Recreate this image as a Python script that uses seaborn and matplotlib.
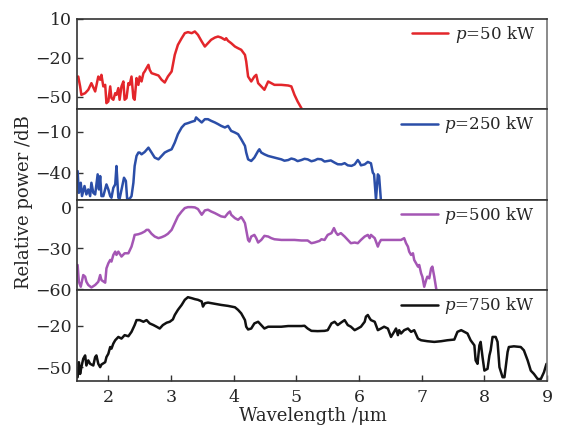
import matplotlib
matplotlib.use("Agg")
import matplotlib.pyplot as plt
import seaborn as sns

# Supercontinuum spectra (relative power in dB) for four pump peak powers
labels = ["$p$=50 kW", "$p$=250 kW", "$p$=500 kW", "$p$=750 kW"]
colors = ["#e3262b", "#2b4ea8", "#a456b4", "#111111"]

wl_50 = [1.52, 1.55, 1.57, 1.63, 1.68, 1.73, 1.79, 1.84, 1.87, 1.89,
         1.92, 1.95, 1.97, 2.00, 2.03, 2.05, 2.08, 2.11, 2.13, 2.16,
         2.18, 2.21, 2.24, 2.26, 2.29, 2.32, 2.34, 2.37, 2.40, 2.42,
         2.45, 2.48, 2.50, 2.53, 2.56, 2.58, 2.61, 2.64, 2.66, 2.69,
         2.74, 2.80, 2.85, 2.90, 2.95, 3.01, 3.03, 3.06, 3.11, 3.17,
         3.22, 3.27, 3.33, 3.38, 3.43, 3.49, 3.54, 3.59, 3.64, 3.70,
         3.75, 3.80, 3.86, 3.88, 3.91, 3.96, 4.02, 4.07, 4.12, 4.18,
         4.20, 4.23, 4.28, 4.33, 4.36, 4.39, 4.44, 4.49, 4.55, 4.60,
         4.65, 4.76, 4.87, 4.92, 4.97, 5.02, 5.08, 5.12]
db_50 = [-34.4, -42.0, -48.5, -47.2, -44.6, -39.5, -45.9, -34.4, -36.9, -33.1,
         -42.0, -40.8, -54.9, -53.6, -42.0, -51.0, -52.3, -47.2, -48.5, -43.3,
         -52.3, -42.0, -38.2, -52.3, -51.0, -39.5, -40.8, -34.4, -51.0, -52.3,
         -35.6, -40.8, -34.4, -38.2, -31.8, -30.5, -27.9, -25.4, -29.2, -31.8,
         -32.6, -33.6, -36.9, -39.0, -34.4, -30.5, -25.4, -17.7, -10.0, -4.9,
         -1.0, -0.2, -1.0, 0.3, -2.3, -7.4, -11.3, -8.7, -6.1, -4.4,
         -3.6, -4.4, -6.1, -4.9, -6.9, -8.7, -11.3, -12.6, -13.8, -17.7,
         -22.8, -34.4, -38.2, -34.4, -33.1, -39.5, -42.0, -44.6, -38.2, -39.5,
         -40.8, -40.8, -41.3, -42.0, -48.5, -53.6, -58.7, -63.0]

wl_250 = [1.51, 1.53, 1.56, 1.58, 1.62, 1.65, 1.68, 1.71, 1.73, 1.76,
          1.79, 1.83, 1.85, 1.87, 1.89, 1.92, 1.97, 2.00, 2.03, 2.05,
          2.08, 2.11, 2.13, 2.16, 2.18, 2.25, 2.28, 2.30, 2.34, 2.37,
          2.40, 2.42, 2.45, 2.48, 2.50, 2.53, 2.58, 2.64, 2.69, 2.74,
          2.80, 2.85, 2.90, 2.95, 3.01, 3.06, 3.11, 3.17, 3.22, 3.27,
          3.33, 3.38, 3.40, 3.43, 3.49, 3.54, 3.59, 3.64, 3.70, 3.75,
          3.80, 3.86, 3.91, 3.96, 4.02, 4.07, 4.12, 4.18, 4.20, 4.23,
          4.28, 4.33, 4.39, 4.41, 4.44, 4.49, 4.55, 4.65, 4.70, 4.76,
          4.81, 4.87, 4.92, 4.97, 5.02, 5.08, 5.13, 5.18, 5.24, 5.29,
          5.34, 5.40, 5.45, 5.50, 5.55, 5.61, 5.66, 5.72, 5.77, 5.82,
          5.88, 5.93, 5.98, 6.01, 6.03, 6.09, 6.14, 6.19, 6.22, 6.24,
          6.27, 6.30, 6.32, 6.35]
db_250 = [-38.8, -54.8, -47.4, -57.2, -49.8, -56.0, -52.3, -57.2, -47.4, -54.8,
          -56.0, -41.2, -52.3, -42.5, -57.2, -57.2, -48.6, -52.3, -57.2, -58.4,
          -51.1, -48.6, -35.1, -58.4, -59.2, -43.7, -46.1, -59.2, -59.2, -57.2,
          -47.4, -35.1, -27.7, -25.2, -25.2, -26.5, -24.8, -21.6, -25.2, -28.9,
          -30.2, -27.7, -25.2, -24.0, -22.8, -17.9, -11.7, -6.8, -4.3, -3.6,
          -2.6, -1.9, 0.6, -0.7, -3.1, -0.7, -0.7, -1.9, -3.1, -4.3,
          -5.6, -6.8, -5.6, -9.3, -10.5, -11.7, -15.4, -20.3, -25.2, -30.2,
          -31.4, -28.9, -24.0, -22.8, -25.2, -26.5, -27.7, -28.9, -29.5, -30.2,
          -31.2, -30.7, -29.6, -30.2, -31.5, -30.7, -29.8, -30.2, -31.6, -31.0,
          -29.9, -30.2, -31.8, -31.4, -31.0, -32.6, -33.8, -33.9, -33.0, -34.6,
          -35.0, -33.9, -30.7, -32.6, -34.6, -33.9, -32.1, -33.1, -40.0, -41.2,
          -59.7, -41.2, -42.5, -61.0]

wl_500 = [1.51, 1.53, 1.56, 1.60, 1.63, 1.65, 1.68, 1.73, 1.79, 1.84,
          1.87, 1.89, 1.95, 1.97, 2.00, 2.03, 2.05, 2.08, 2.11, 2.13,
          2.16, 2.21, 2.26, 2.32, 2.37, 2.40, 2.42, 2.48, 2.53, 2.58,
          2.61, 2.64, 2.69, 2.74, 2.80, 2.85, 2.90, 2.95, 3.01, 3.06,
          3.11, 3.17, 3.22, 3.27, 3.33, 3.38, 3.43, 3.49, 3.51, 3.54,
          3.59, 3.64, 3.70, 3.75, 3.80, 3.86, 3.91, 3.94, 3.96, 4.02,
          4.07, 4.12, 4.15, 4.18, 4.20, 4.23, 4.25, 4.28, 4.33, 4.36,
          4.39, 4.44, 4.49, 4.55, 4.60, 4.65, 4.76, 4.87, 4.97, 5.08,
          5.18, 5.24, 5.29, 5.37, 5.40, 5.45, 5.50, 5.56, 5.60, 5.63,
          5.66, 5.71, 5.77, 5.82, 5.87, 5.93, 5.98, 6.03, 6.09, 6.14,
          6.17, 6.19, 6.25, 6.30, 6.32, 6.35, 6.46, 6.56, 6.67, 6.72,
          6.75, 6.78, 6.80, 6.83, 6.86, 6.88, 6.91, 6.94, 6.96, 6.99,
          7.01, 7.04, 7.07, 7.09, 7.12, 7.15, 7.17, 7.20, 7.23, 7.25]
db_500 = [-42.3, -54.6, -58.3, -49.7, -50.9, -54.6, -57.0, -58.8, -57.0, -54.6,
          -49.7, -53.4, -55.3, -44.8, -41.1, -38.6, -39.8, -34.9, -32.5, -34.9,
          -32.5, -36.1, -33.7, -33.7, -28.8, -23.9, -20.2, -19.7, -18.9, -17.7,
          -16.5, -16.5, -19.4, -21.4, -22.6, -21.9, -20.9, -19.4, -16.5, -11.6,
          -6.6, -3.0, -0.5, 0.2, 0.2, 0.0, -1.2, -5.4, -4.2, -2.2,
          -1.7, -3.0, -4.2, -5.4, -6.6, -7.1, -4.2, -3.0, -5.4, -7.9,
          -9.1, -7.1, -9.1, -11.6, -16.5, -23.9, -25.1, -21.4, -20.2, -22.6,
          -25.8, -23.9, -20.9, -21.4, -22.6, -23.4, -23.9, -23.9, -23.9, -24.3,
          -24.3, -26.3, -25.8, -24.6, -23.4, -23.9, -20.2, -18.9, -15.2, -18.4,
          -20.2, -18.9, -21.4, -23.9, -26.3, -25.8, -26.3, -23.9, -21.4, -20.2,
          -22.6, -20.2, -22.6, -28.8, -26.3, -23.9, -23.9, -23.9, -23.9, -22.6,
          -26.3, -28.8, -32.5, -34.9, -33.7, -38.6, -41.1, -43.5, -42.3, -48.4,
          -50.9, -58.3, -53.4, -50.9, -52.1, -44.8, -43.5, -50.9, -59.5, -63.0]

wl_750 = [1.51, 1.53, 1.55, 1.57, 1.60, 1.63, 1.65, 1.68, 1.71, 1.76,
          1.79, 1.81, 1.84, 1.87, 1.89, 1.95, 1.97, 2.00, 2.03, 2.05,
          2.08, 2.11, 2.16, 2.21, 2.26, 2.32, 2.37, 2.42, 2.45, 2.50,
          2.56, 2.61, 2.66, 2.72, 2.77, 2.82, 2.87, 2.93, 2.98, 3.03,
          3.06, 3.11, 3.17, 3.22, 3.27, 3.33, 3.38, 3.43, 3.49, 3.51,
          3.54, 3.59, 3.70, 3.80, 3.91, 4.02, 4.07, 4.12, 4.18, 4.20,
          4.23, 4.28, 4.33, 4.39, 4.44, 4.49, 4.55, 4.65, 4.76, 4.87,
          4.97, 5.08, 5.13, 5.18, 5.24, 5.34, 5.45, 5.50, 5.56, 5.61,
          5.66, 5.71, 5.77, 5.82, 5.87, 5.93, 5.98, 6.03, 6.09, 6.11,
          6.14, 6.17, 6.19, 6.25, 6.30, 6.35, 6.40, 6.46, 6.51, 6.56,
          6.59, 6.62, 6.64, 6.67, 6.72, 6.78, 6.83, 6.88, 6.94, 6.99,
          7.09, 7.20, 7.31, 7.41, 7.52, 7.57, 7.63, 7.68, 7.73, 7.78,
          7.84, 7.86, 7.89, 7.92, 7.94, 7.97, 8.00, 8.05, 8.08, 8.10,
          8.13, 8.18, 8.21, 8.24, 8.29, 8.32, 8.34, 8.37, 8.39, 8.47,
          8.58, 8.63, 8.69, 8.74, 8.79, 8.85, 8.90, 8.95, 8.99]
db_750 = [-57.3, -46.4, -54.9, -50.0, -43.9, -41.5, -48.8, -45.1, -47.6, -48.8,
          -42.7, -41.5, -47.6, -50.0, -48.1, -46.4, -42.7, -40.3, -35.4, -36.6,
          -32.9, -30.5, -28.1, -29.3, -26.8, -27.6, -24.4, -19.5, -15.9, -15.9,
          -17.1, -15.9, -18.3, -19.5, -20.7, -22.0, -19.5, -17.8, -17.1, -15.4,
          -12.2, -8.5, -4.9, -1.2, 0.7, 0.0, -0.7, -1.2, -2.4, -6.1,
          -3.7, -3.2, -4.1, -4.9, -5.6, -6.6, -8.5, -11.0, -15.9, -20.7,
          -22.7, -22.0, -18.3, -17.1, -19.5, -22.0, -20.7, -20.7, -20.7, -20.2,
          -20.2, -20.2, -20.0, -22.0, -23.7, -23.9, -23.7, -23.2, -18.3, -17.1,
          -19.5, -17.8, -15.9, -19.5, -20.7, -23.2, -22.0, -20.7, -17.1, -13.4,
          -12.2, -14.6, -15.9, -17.1, -23.2, -22.0, -20.7, -22.0, -28.1, -24.4,
          -22.0, -26.8, -23.2, -25.6, -23.2, -22.0, -24.4, -23.2, -29.3, -30.5,
          -31.2, -31.7, -31.2, -30.5, -30.0, -24.4, -23.2, -24.4, -25.6, -30.5,
          -34.2, -45.1, -47.6, -34.2, -31.7, -42.7, -52.5, -51.2, -41.5, -37.8,
          -28.1, -28.1, -31.7, -50.0, -57.3, -57.3, -50.0, -39.0, -35.4, -34.9,
          -35.4, -37.8, -45.1, -52.5, -54.9, -58.6, -58.6, -53.7, -47.6]

wavelengths = [wl_50, wl_250, wl_500, wl_750]
powers = [db_50, db_250, db_500, db_750]

y_limits = [(-59.7, 10.0), (-60.0, 6.5), (-61.0, 5.5), (-60.0, 5.6)]
y_ticks = [[10, -20, -50], [-10, -40], [0, -30, -60], [-20, -50]]
x_ticks = [2, 3, 4, 5, 6, 7, 8, 9]

sns.set_style("ticks")
plt.rcParams["font.family"] = ["DejaVu Serif"]
plt.rcParams["mathtext.fontset"] = "dejavuserif"

fig, axes = plt.subplots(4, 1, figsize=(5.64, 4.29), dpi=100, sharex=True)
fig.subplots_adjust(left=0.1365, right=0.970, top=0.956, bottom=0.112, hspace=0)

for i, ax in enumerate(axes):
    sns.lineplot(x=wavelengths[i], y=powers[i], ax=ax, color=colors[i],
                 linewidth=1.8, label=labels[i], sort=False, estimator=None)
    ax.set_xlim(1.5, 9.0)
    ax.set_ylim(*y_limits[i])
    ax.set_yticks(y_ticks[i])
    ax.set_xticks(x_ticks)
    ax.tick_params(axis="both", direction="in", length=4, width=1.0,
                   labelsize=12.5, color="#333333")
    ax.tick_params(axis="x", pad=6)
    if i < 3:
        ax.tick_params(axis="x", bottom=False, labelbottom=False)
    for side, sp in ax.spines.items():
        sp.set_visible(True)
        sp.set_linewidth(1.2)
        sp.set_color("#333333" if side != "right" else "#777777")
    ax.legend(loc="upper right", bbox_to_anchor=(0.985, 1.0), frameon=False,
              fontsize=12, handlelength=2.2, handletextpad=0.4,
              borderaxespad=0.1, borderpad=0.2)
    ax.set_xlabel("")
    ax.set_ylabel("")

fig.text(0.5557, 0.030, "Wavelength /μm", ha="center", va="center", fontsize=13)
fig.text(0.042, 0.529, "Relative power /dB", ha="center", va="center",
         rotation=90, fontsize=13)

fig.savefig("out.png", dpi=100)
